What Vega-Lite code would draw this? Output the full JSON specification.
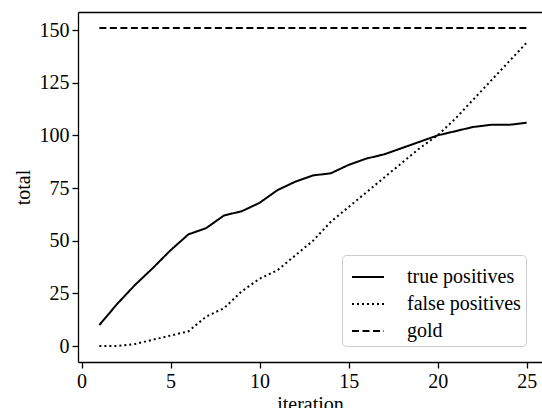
{
  "$schema": "https://vega.github.io/schema/vega-lite/v6.json",
  "width": 464,
  "height": 350,
  "autosize": {"type": "none"},
  "padding": {"left": 78, "top": 12, "right": 0, "bottom": 46},
  "background": "white",
  "config": {
    "view": {"stroke": null},
    "font": "Liberation Serif",
    "axis": {
      "labelFont": "Liberation Serif",
      "labelFontSize": 20,
      "labelColor": "black",
      "titleFont": "Liberation Serif",
      "titleFontSize": 20,
      "titleFontWeight": "normal",
      "titleColor": "black",
      "domainColor": "black",
      "domainWidth": 1.3,
      "tickColor": "black",
      "tickWidth": 1.3,
      "tickSize": 6,
      "labelPadding": 3,
      "grid": false
    },
    "legend": {
      "labelFont": "Liberation Serif",
      "labelFontSize": 20,
      "labelColor": "black"
    }
  },
  "data": {
    "values": [
      {"iteration": 1, "series": "true positives", "total": 10},
      {"iteration": 2, "series": "true positives", "total": 20},
      {"iteration": 3, "series": "true positives", "total": 29},
      {"iteration": 4, "series": "true positives", "total": 37},
      {"iteration": 5, "series": "true positives", "total": 45.5},
      {"iteration": 6, "series": "true positives", "total": 53},
      {"iteration": 7, "series": "true positives", "total": 56},
      {"iteration": 8, "series": "true positives", "total": 62},
      {"iteration": 9, "series": "true positives", "total": 64},
      {"iteration": 10, "series": "true positives", "total": 68},
      {"iteration": 11, "series": "true positives", "total": 74},
      {"iteration": 12, "series": "true positives", "total": 78},
      {"iteration": 13, "series": "true positives", "total": 81},
      {"iteration": 14, "series": "true positives", "total": 82},
      {"iteration": 15, "series": "true positives", "total": 86},
      {"iteration": 16, "series": "true positives", "total": 89},
      {"iteration": 17, "series": "true positives", "total": 91},
      {"iteration": 18, "series": "true positives", "total": 94},
      {"iteration": 19, "series": "true positives", "total": 97},
      {"iteration": 20, "series": "true positives", "total": 100},
      {"iteration": 21, "series": "true positives", "total": 102},
      {"iteration": 22, "series": "true positives", "total": 104},
      {"iteration": 23, "series": "true positives", "total": 105},
      {"iteration": 24, "series": "true positives", "total": 105},
      {"iteration": 25, "series": "true positives", "total": 106},
      {"iteration": 1, "series": "false positives", "total": 0},
      {"iteration": 2, "series": "false positives", "total": 0},
      {"iteration": 3, "series": "false positives", "total": 1},
      {"iteration": 4, "series": "false positives", "total": 3},
      {"iteration": 5, "series": "false positives", "total": 5},
      {"iteration": 6, "series": "false positives", "total": 7},
      {"iteration": 7, "series": "false positives", "total": 14},
      {"iteration": 8, "series": "false positives", "total": 18},
      {"iteration": 9, "series": "false positives", "total": 26},
      {"iteration": 10, "series": "false positives", "total": 32},
      {"iteration": 11, "series": "false positives", "total": 36},
      {"iteration": 12, "series": "false positives", "total": 43},
      {"iteration": 13, "series": "false positives", "total": 50},
      {"iteration": 14, "series": "false positives", "total": 59},
      {"iteration": 15, "series": "false positives", "total": 66},
      {"iteration": 16, "series": "false positives", "total": 73},
      {"iteration": 17, "series": "false positives", "total": 80},
      {"iteration": 18, "series": "false positives", "total": 87},
      {"iteration": 19, "series": "false positives", "total": 94},
      {"iteration": 20, "series": "false positives", "total": 100},
      {"iteration": 21, "series": "false positives", "total": 108},
      {"iteration": 22, "series": "false positives", "total": 117},
      {"iteration": 23, "series": "false positives", "total": 126},
      {"iteration": 24, "series": "false positives", "total": 135},
      {"iteration": 25, "series": "false positives", "total": 144},
      {"iteration": 1, "series": "gold", "total": 151},
      {"iteration": 25, "series": "gold", "total": 151}
    ]
  },
  "encoding": {
    "x": {
      "field": "iteration",
      "type": "quantitative",
      "scale": {"domain": [-0.2, 25.86], "nice": false, "zero": false},
      "axis": {"values": [0, 5, 10, 15, 20, 25], "title": "iteration", "titlePadding": 3}
    },
    "y": {
      "field": "total",
      "type": "quantitative",
      "scale": {"domain": [-7.55, 158.55], "nice": false, "zero": false},
      "axis": {"values": [0, 25, 50, 75, 100, 125, 150], "title": "total", "titlePadding": 6}
    },
    "strokeDash": {
      "field": "series",
      "type": "nominal",
      "scale": {
        "domain": ["true positives", "false positives", "gold"],
        "range": [[1, 0], [2, 3], [7, 3.5]]
      },
      "legend": {
        "title": null,
        "orient": "none",
        "legendX": 264,
        "legendY": 243,
        "fillColor": "white",
        "strokeColor": "#cccccc",
        "cornerRadius": 4,
        "padding": 5,
        "symbolType": "stroke",
        "symbolSize": 1024,
        "symbolStrokeWidth": 2,
        "symbolStrokeColor": "black",
        "symbolOffset": 4,
        "labelOffset": 22,
        "rowPadding": 0
      }
    }
  },
  "layer": [
    {
      "transform": [{"filter": "datum.series !== 'gold'"}],
      "mark": {"type": "line", "color": "black", "strokeWidth": 2}
    },
    {
      "transform": [{"filter": "datum.series === 'gold'"}],
      "mark": {"type": "line", "color": "black", "strokeWidth": 2},
      "encoding": {
        "x": {
          "field": "iteration",
          "type": "quantitative",
          "axis": {"orient": "top", "labels": false, "ticks": false, "title": null, "domain": true}
        }
      }
    }
  ],
  "resolve": {"axis": {"x": "independent"}}
}
